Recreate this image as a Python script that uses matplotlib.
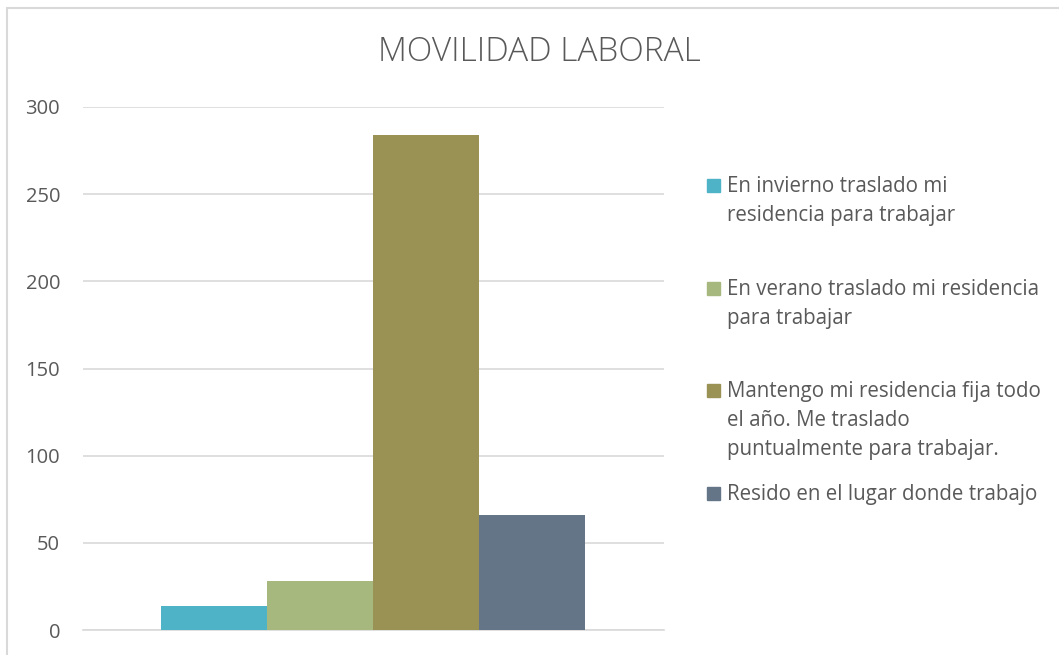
import matplotlib
matplotlib.use("Agg")
import matplotlib.pyplot as plt
from matplotlib.patches import Rectangle

categorias = [
    "En invierno traslado mi\nresidencia para trabajar",
    "En verano traslado mi residencia\npara trabajar",
    "Mantengo mi residencia fija todo\nel año. Me traslado\npuntualmente para trabajar.",
    "Resido en el lugar donde trabajo",
]
valores = [14, 28, 284, 66]
colores = ["#4fb3c8", "#a7b87f", "#9a9155", "#647587"]
yticks = [0, 50, 100, 150, 200, 250, 300]

W, H = 1059, 655
fig = plt.figure(figsize=(W / 100, H / 100), dpi=100)
plt.rcParams["font.family"] = ["Open Sans", "DejaVu Sans"]
txt_color = "#595959"

# chart frame (cut off on the right and bottom like the screenshot)
fig.add_artist(Rectangle((7 / W, -0.1), 1.2, 1 - 8 / H + 0.1, transform=fig.transFigure,
                         fill=False, edgecolor="#d9d9d9", linewidth=1.5))

ax = fig.add_axes([83 / W, 25 / H, 581 / W, 523 / H])
w = 106 / 581 * 5.48
xs = [(i - 1.5) * w for i in range(len(valores))]
ax.bar(xs, valores, width=w, color=colores, zorder=3)
ax.set_xlim(-2.74, 2.74)
ax.set_ylim(0, 300)
ax.set_yticks(yticks)
ax.set_xticks([])
ax.grid(axis="y", color="#d9d9d9", linewidth=1.2, zorder=0)
for s in ax.spines.values():
    s.set_visible(False)
ax.spines["bottom"].set_visible(True)
ax.spines["bottom"].set_color("#d9d9d9")
ax.spines["bottom"].set_linewidth(1.2)
ax.tick_params(axis="y", length=0, pad=16.5, labelsize=14.5, labelcolor=txt_color)

fig.text(539 / W, 1 - 52 / H, "MOVILIDAD LABORAL", ha="center", va="center",
         fontsize=24, color=txt_color, fontweight="light")

# legend drawn by hand so the swatch lines up with the first text line
tops = [185, 288, 390, 493]
for lab, col, y in zip(categorias, colores, tops):
    fig.add_artist(Rectangle((707 / W, 1 - (y + 7) / H), 13 / W, 13 / H,
                             transform=fig.transFigure, color=col))
    fig.text(727 / W, 1 - (y - 9) / H, lab, ha="left", va="top", fontsize=14.8,
             color=txt_color, linespacing=1.5)

fig.savefig("out.png", dpi=100)
